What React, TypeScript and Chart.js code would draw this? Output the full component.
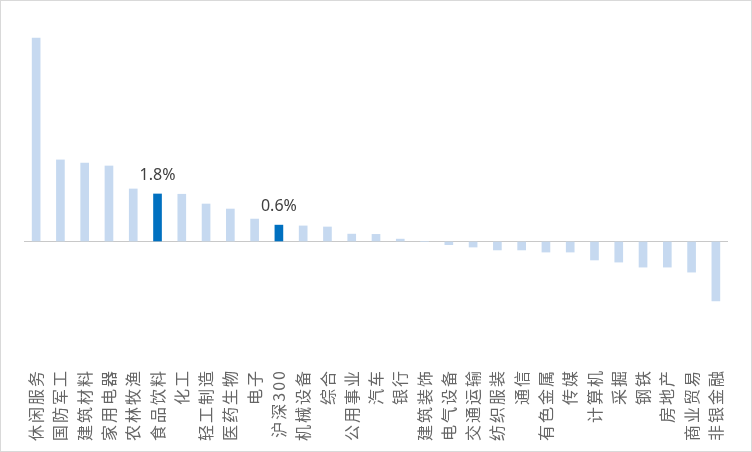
import React, { useEffect, useRef } from "react";
import { Chart, registerables } from "chart.js";

Chart.register(...registerables);

const categories: string[] = [
  "休闲服务", "国防军工", "建筑材料", "家用电器", "农林牧渔", "食品饮料", "化工", "轻工制造",
  "医药生物", "电子", "沪深300", "机械设备", "综合", "公用事业", "汽车", "银行", "建筑装饰",
  "电气设备", "交通运输", "纺织服装", "通信", "有色金属", "传媒", "计算机", "采掘", "钢铁",
  "房地产", "商业贸易", "非银金融",
];

const values: number[] = [
  7.7, 3.09, 2.97, 2.86, 1.99, 1.8, 1.79, 1.42, 1.23, 0.85, 0.62, 0.59, 0.55, 0.28, 0.27, 0.09,
  0.0, -0.12, -0.21, -0.32, -0.32, -0.4, -0.4, -0.7, -0.78, -0.97, -0.97, -1.16, -2.25,
];

const highlighted: string[] = ["食品饮料", "沪深300"];
const labelTexts: Record<string, string> = { "食品饮料": "1.8%", "沪深300": "0.6%" };

const LIGHT = "#c6d9f0";
const DARK = "#0070c0";

export default function App() {
  const canvasRef = useRef<HTMLCanvasElement | null>(null);

  useEffect(() => {
    document.body.style.margin = "0";
    const canvas = canvasRef.current;
    if (!canvas) return;

    const spacingPlugin = {
      id: "spacing",
      beforeDraw(chart: any) {
        (chart.ctx as any).letterSpacing = "2px";
      },
    };

    const valueLabels = {
      id: "valueLabels",
      afterDatasetsDraw(chart: any) {
        const ctx = chart.ctx;
        const meta = chart.getDatasetMeta(0);
        ctx.save();
        (ctx as any).letterSpacing = "0px";
        ctx.font = "16px 'Noto Sans', sans-serif";
        ctx.fillStyle = "#404040";
        ctx.textAlign = "center";
        ctx.textBaseline = "alphabetic";
        categories.forEach((c, i) => {
          const t = labelTexts[c];
          if (!t) return;
          const el = meta.data[i];
          ctx.fillText(t, el.x, el.y - 14);
        });
        ctx.restore();
      },
    };

    const chart = new Chart(canvas, {
      type: "bar",
      data: {
        labels: categories,
        datasets: [
          {
            data: values,
            backgroundColor: categories.map((c) => (highlighted.includes(c) ? DARK : LIGHT)),
            barThickness: 8,
            borderWidth: 0,
          },
        ],
      },
      options: {
        animation: false,
        responsive: false,
        devicePixelRatio: 1,
        layout: { padding: { left: 23, right: 23, top: 29, bottom: 0 } },
        plugins: {
          legend: { display: false },
          tooltip: { enabled: false },
        },
        scales: {
          x: {
            grid: { display: false },
            border: { display: false },
            ticks: {
              autoSkip: false,
              maxRotation: 90,
              minRotation: 90,
              padding: 2,
              color: "#666666",
              font: { family: "'Noto Sans CJK SC', sans-serif", size: 16 },
            },
            afterFit(scale: any) {
              scale.height = 92;
            },
          },
          y: {
            min: -4.45,
            max: 8.01,
            display: true,
            ticks: { display: false, stepSize: 1 },
            border: { display: false },
            grid: {
              drawTicks: false,
              lineWidth: 1,
              color: (ctx: any) => (ctx.tick && ctx.tick.value === 0 ? "#c8c8c8" : "rgba(0,0,0,0)"),
            },
            afterFit(scale: any) {
              scale.width = 0;
            },
          },
        },
      },
      plugins: [spacingPlugin, valueLabels],
    });

    return () => chart.destroy();
  }, []);

  return (
    <div
      style={{
        position: "absolute",
        left: 0,
        top: 0,
        width: 752,
        height: 452,
        boxSizing: "border-box",
        border: "1px solid #d9d9d9",
        background: "#fff",
      }}
    >
      <canvas ref={canvasRef} width={750} height={450} style={{ display: "block", width: 750, height: 450 }} />
    </div>
  );
}
